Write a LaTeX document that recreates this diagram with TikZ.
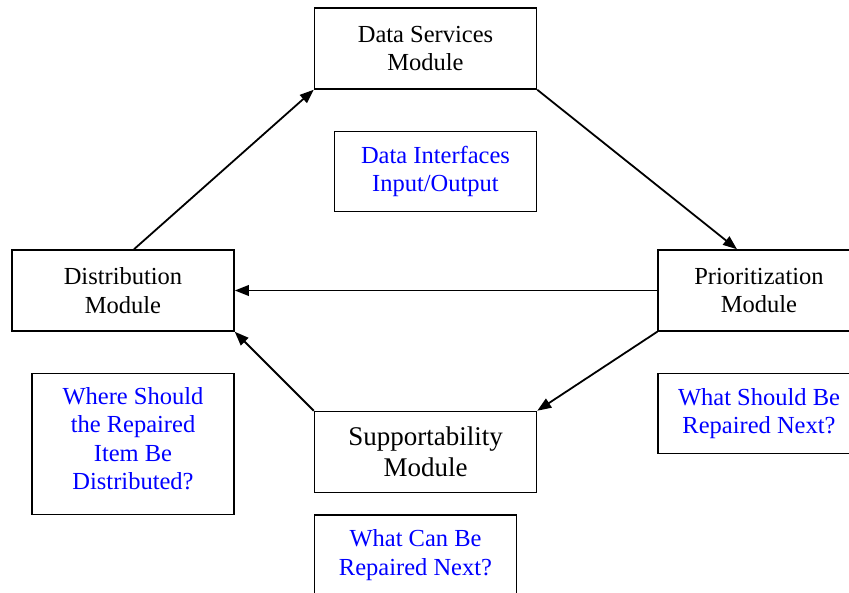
\documentclass[tikz,border=0pt]{standalone}
\usepackage{fontspec}
\setmainfont{Liberation Serif}
\usetikzlibrary{positioning, arrows.meta}

\begin{document}
\begin{tikzpicture}[
    x=1pt, y=-1pt,
    node distance=40pt,
    box/.style={
        draw,
        rectangle,
        line width=1.5pt,
        minimum width=222pt,
        minimum height=81pt,
        align=center,
        inner sep=0pt,
        font=\fontsize{24.5}{28.5}\selectfont
    },
    modbox/.style={
        box
    },
    askbox/.style={
        box,
        minimum width=202pt,
        minimum height=80pt,
        text=blue
    },
    arrow/.style={-{Triangle[length=14pt,width=10.5pt]}, line width=1.8pt}
]

\useasboundingbox (0,0) rectangle (849,593);

% Modules
\node[modbox] (dsm) at (425.5,48.5) {Data Services\\Module};
\node[modbox] (dist) at (123,290.5) {Distribution\\Module};
\node[modbox, minimum width=202pt] (prio) at (759,290.5) {Prioritization\\Module};
\node[modbox, font=\fontsize{27}{31.5}\selectfont] (supp) at (425.5,452) {Supportability\\Module};

% Questions under each module
\node[askbox, below left=41pt and 0pt of dsm.south east] (dio) {Data Interfaces\\Input/Output};
\node[askbox, minimum height=141pt, below left=41pt and 0pt of dist.south east] (whereq) {Where Should\\the Repaired\\Item Be\\Distributed?\\[-18pt]\mbox{}};
\node[askbox, below=41pt of prio] (whatsq) {What Should Be\\Repaired Next?};
\node[askbox, below right=21pt and 0pt of supp.south west] (whatcq) {What Can Be\\Repaired Next?};

% Flow arrows
\draw[arrow] ([xshift=11pt]dist.north) -- (dsm.south west);
\draw[arrow] (dsm.south east) -- ([xshift=-22pt]prio.north);
\draw[arrow] (prio.west) -- (dist.east);
\draw[arrow] (prio.south west) -- (supp.north east);
\draw[arrow] (supp.north west) -- (dist.south east);

\end{tikzpicture}
\end{document}
